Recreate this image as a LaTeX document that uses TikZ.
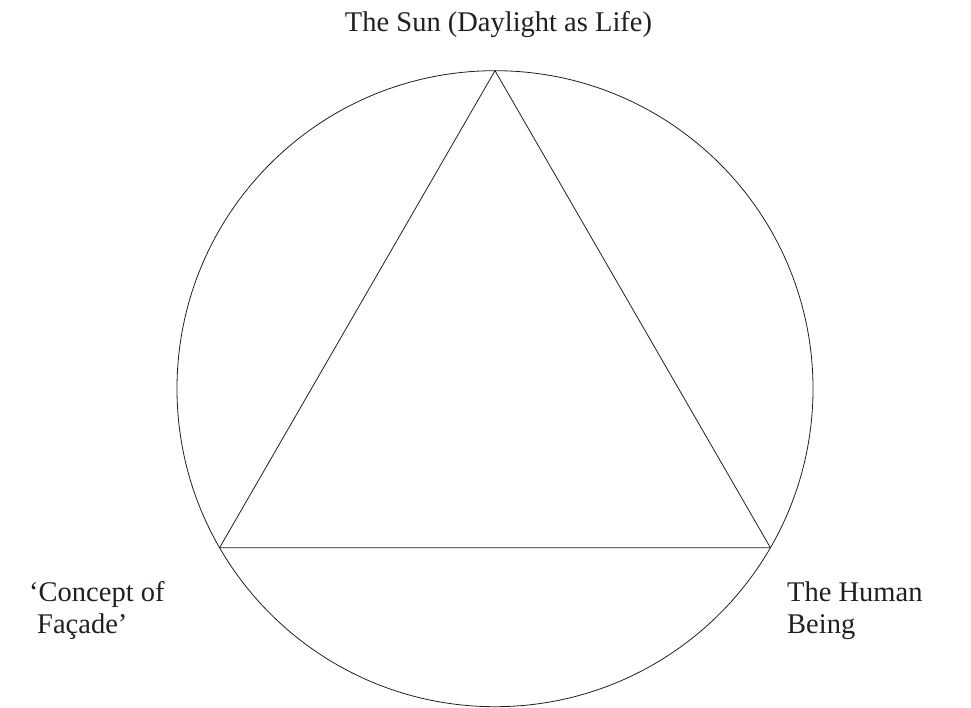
\documentclass[tikz,border=0pt]{standalone}
\usepackage{fontspec}
\setmainfont{Liberation Serif}
\definecolor{ink}{HTML}{231F20}
\begin{document}
\begin{tikzpicture}[x=1pt,y=-1pt,
  lbl/.style={font=\fontsize{28.5}{32}\selectfont, text=ink, inner sep=0pt, align=left},
  thin line/.style={draw=ink, line width=0.8pt}]
\useasboundingbox (0,0) rectangle (971,708);
\coordinate (c) at (495,388.7);
\draw[thin line] (c) circle[radius=318];
\coordinate (top) at (495,70.7);
\coordinate (bl) at (219.6,547.7);
\coordinate (br) at (770.4,547.7);
\draw[thin line, line join=miter] (top) -- (br) -- (bl) -- cycle;
\node[lbl, anchor=base] (sun) at (498.5,32) {The Sun (Daylight as Life)};
\node[lbl, anchor=base west] (fac) at (29,633) {‘Concept of\\\hspace{8pt}Façade’};
\node[lbl, anchor=base west] (hum) at (787,633) {The Human\\Being};
\end{tikzpicture}
\end{document}
